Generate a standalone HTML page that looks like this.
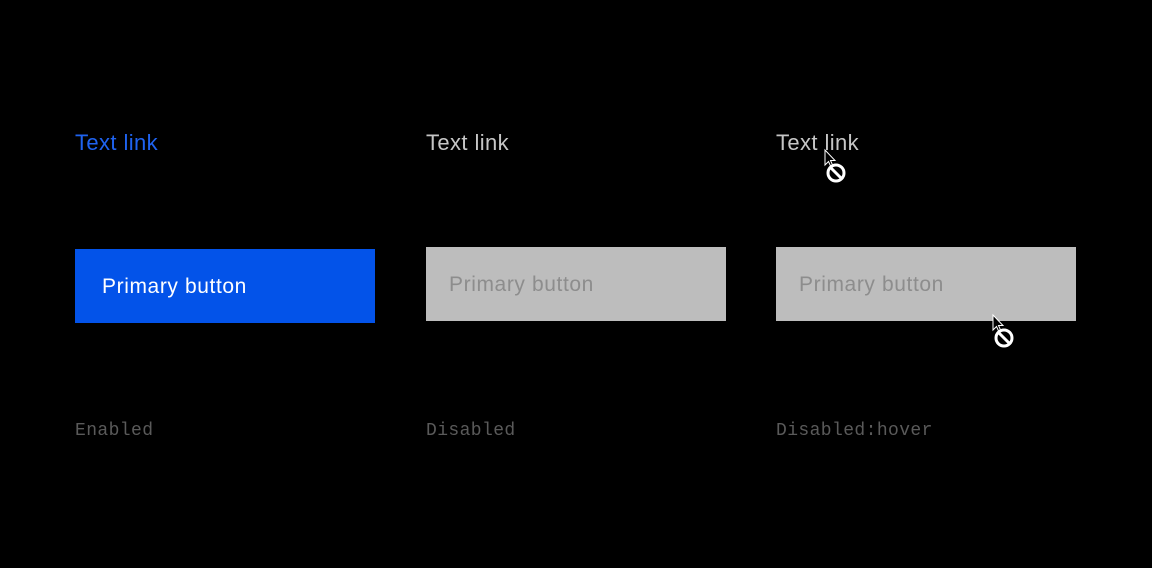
<!DOCTYPE html>
<html><head><style>
body{margin:0;width:1152px;height:568px;background:#000;position:relative;overflow:hidden;font-family:"Liberation Sans",sans-serif}
.a{position:absolute;white-space:nowrap}
.link{font-size:22px;top:130px;letter-spacing:0.4px}
.btn{position:absolute;width:300px;height:74px;font-size:21px;letter-spacing:0.6px;line-height:76px;box-sizing:border-box;padding-left:23px}
.lab{font-family:"Liberation Mono",monospace;font-size:18px;letter-spacing:0.4px;color:#5a5a5a;top:421px}
</style></head><body>
<div class="a link" style="left:75px;color:#1f63f0">Text link</div>
<div class="a link" style="left:426px;color:#c6c6c6">Text link</div>
<div class="a link" style="left:776px;color:#c6c6c6">Text link</div>
<div class="btn" style="left:75px;top:249px;background:#0353e9;color:#fff;padding-left:27px">Primary button</div>
<div class="btn" style="left:426px;top:247px;background:#bdbdbd;color:#8d8d8d">Primary button</div>
<div class="btn" style="left:776px;top:247px;background:#bdbdbd;color:#8d8d8d">Primary button</div>
<div class="a lab" style="left:75px">Enabled</div>
<div class="a lab" style="left:426px">Disabled</div>
<div class="a lab" style="left:776px">Disabled:hover</div>
<svg class="a" style="left:0;top:0" width="1152" height="568">
<g id="c" transform="translate(825,150)">
<path d="M0 0 L0 15 L3.5 11.5 L6 17 L8 16 L5.5 10.5 L10 10.5 Z" fill="#000" stroke="#fff" stroke-width="1"/>
<circle cx="11" cy="23" r="8" fill="#000" stroke="#fff" stroke-width="3"/>
<line x1="5.5" y1="17.5" x2="16.5" y2="28.5" stroke="#fff" stroke-width="3"/>
</g>
<use href="#c" transform="translate(168,165)"/>
</svg>
</body></html>
